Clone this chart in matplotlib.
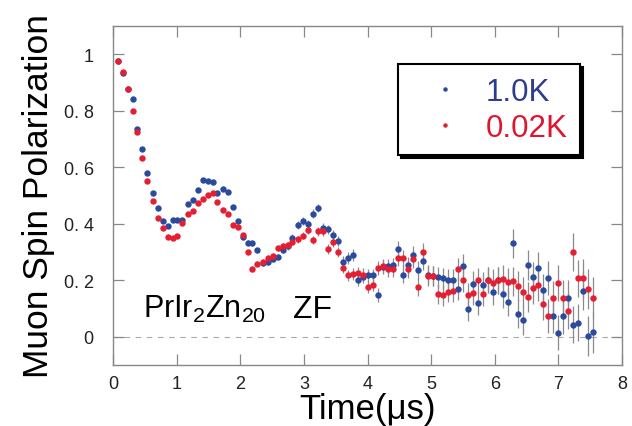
import matplotlib
matplotlib.use("Agg")
import matplotlib.pyplot as plt

plt.rcParams['font.family'] = ['Liberation Sans', 'DejaVu Sans']
plt.rcParams['mathtext.fontset'] = 'custom'
plt.rcParams['mathtext.rm'] = 'Liberation Sans'
plt.rcParams['mathtext.it'] = 'Liberation Sans'

time_us = [0.07, 0.15, 0.23, 0.31, 0.38, 0.46, 0.54, 0.62, 0.70, 0.78,
           0.86, 0.94, 1.01, 1.09, 1.17, 1.25, 1.33, 1.41, 1.49, 1.57,
           1.64, 1.72, 1.80, 1.88, 1.96, 2.04, 2.12, 2.19, 2.27, 2.35,
           2.43, 2.51, 2.59, 2.67, 2.75, 2.82, 2.90, 2.98, 3.06, 3.14,
           3.22, 3.30, 3.38, 3.45, 3.53, 3.61, 3.69, 3.77, 3.85, 3.93,
           4.01, 4.08, 4.16, 4.24, 4.32, 4.40, 4.48, 4.56, 4.63, 4.71,
           4.79, 4.87, 4.95, 5.03, 5.11, 5.19, 5.26, 5.34, 5.42, 5.50,
           5.58, 5.66, 5.74, 5.82, 5.89, 5.97, 6.05, 6.13, 6.21, 6.29,
           6.37, 6.45, 6.52, 6.60, 6.68, 6.76, 6.84, 6.92, 7.00, 7.08,
           7.15, 7.23, 7.31, 7.39, 7.47, 7.55]

pol_1K = [0.975, 0.935, 0.875, 0.840, 0.735, 0.664, 0.580, 0.507, 0.455, 0.410,
          0.390, 0.412, 0.412, 0.412, 0.468, 0.485, 0.520, 0.554, 0.551, 0.546,
          0.510, 0.522, 0.513, 0.460, 0.409, 0.353, 0.333, 0.330, 0.306, 0.260,
          0.265, 0.275, 0.283, 0.306, 0.320, 0.350, 0.395, 0.409, 0.400, 0.436,
          0.456, 0.385, 0.380, 0.360, 0.338, 0.265, 0.279, 0.290, 0.200, 0.212,
          0.217, 0.217, 0.147, 0.247, 0.250, 0.253, 0.312, 0.220, 0.253, 0.290,
          0.235, 0.268, 0.220, 0.215, 0.210, 0.206, 0.200, 0.200, 0.170, 0.250,
          0.097, 0.188, 0.119, 0.184, 0.200, 0.158, 0.200, 0.152, 0.123, 0.330,
          0.082, 0.060, 0.253, 0.210, 0.243, 0.164, 0.208, 0.073, 0.014, 0.073,
          0.137, 0.043, 0.050, 0.161, 0.002, 0.015]

pol_002K = [0.976, 0.936, 0.875, 0.800, 0.726, 0.634, 0.552, 0.481, 0.420, 0.383,
            0.353, 0.350, 0.357, 0.404, 0.436, 0.444, 0.472, 0.489, 0.500, 0.507,
            0.477, 0.450, 0.436, 0.395, 0.389, 0.360, 0.300, 0.239, 0.259, 0.265,
            0.277, 0.286, 0.315, 0.320, 0.324, 0.336, 0.345, 0.357, 0.377, 0.343,
            0.373, 0.373, 0.310, 0.336, 0.300, 0.243, 0.217, 0.223, 0.227, 0.220,
            0.176, 0.184, 0.243, 0.250, 0.239, 0.239, 0.279, 0.277, 0.239, 0.274,
            0.176, 0.298, 0.215, 0.215, 0.150, 0.147, 0.159, 0.161, 0.238, 0.200,
            0.149, 0.156, 0.200, 0.152, 0.200, 0.191, 0.200, 0.203, 0.194, 0.196,
            0.180, 0.158, 0.140, 0.172, 0.184, 0.116, 0.073, 0.137, 0.190, 0.137,
            0.091, 0.300, 0.206, 0.206, 0.168, 0.138]

pol_err = [0.003, 0.003, 0.003, 0.003, 0.003, 0.003, 0.004, 0.004, 0.004, 0.004,
           0.004, 0.004, 0.005, 0.005, 0.005, 0.005, 0.005, 0.006, 0.006, 0.006,
           0.006, 0.007, 0.007, 0.007, 0.008, 0.008, 0.008, 0.009, 0.009, 0.009,
           0.010, 0.010, 0.011, 0.011, 0.012, 0.012, 0.013, 0.013, 0.014, 0.015,
           0.015, 0.016, 0.017, 0.017, 0.018, 0.019, 0.020, 0.021, 0.021, 0.022,
           0.023, 0.024, 0.024, 0.025, 0.026, 0.027, 0.028, 0.029, 0.030, 0.031,
           0.032, 0.033, 0.034, 0.035, 0.036, 0.037, 0.038, 0.039, 0.040, 0.041,
           0.042, 0.043, 0.044, 0.045, 0.046, 0.047, 0.048, 0.049, 0.050, 0.051,
           0.052, 0.053, 0.054, 0.055, 0.057, 0.058, 0.059, 0.060, 0.062, 0.063,
           0.064, 0.066, 0.067, 0.068, 0.070, 0.072]

labels = ["1.0K", "0.02K"]
colors = ["#2a4a9e", "#e61e32"]
text_colors = ["#2e3c8c", "#e0142d"]

xticks = [0, 1, 2, 3, 4, 5, 6, 7, 8]
yticks = [0, 0.2, 0.4, 0.6, 0.8, 1.0]
ytick_labels = ["0", "0. 2", "0. 4", "0. 6", "0. 8", "1"]

fig = plt.figure(figsize=(6.32, 4.27), dpi=100)
ax = fig.add_axes([0.179, 0.143, 0.805, 0.794])

ax.axhline(0, color="#aaaaaa", lw=0.8, ls=(0, (5, 5)), zorder=1)

for pol, col in zip([pol_1K, pol_002K], colors):
    ax.errorbar(time_us, pol, yerr=pol_err, fmt="none", ecolor="#8a8a8a",
                elinewidth=0.9, capsize=0, zorder=2)
handles = []
for pol, col, lab in zip([pol_1K, pol_002K], colors, labels):
    h, = ax.plot(time_us, pol, "o", color=col, markersize=4.6, mec="none",
                 label=lab, zorder=3)
    handles.append(h)

ax.set_xlim(0, 8)
ax.set_ylim(-0.1, 1.1)
ax.set_xticks(xticks)
ax.set_xticklabels([str(v) for v in xticks])
ax.set_yticks(yticks)
ax.set_yticklabels(ytick_labels)

for s in ax.spines.values():
    s.set_color("#888888")
    s.set_linewidth(1.0)
ax.tick_params(direction="in", length=8, width=0.9, color="#888888",
               top=True, right=True, labelsize=13, labelcolor="#222222")
ax.tick_params(axis="y", pad=14)
ax.tick_params(axis="x", pad=7)

ax.set_xlabel("Time(\u03bcs)", fontsize=25, labelpad=0)
ax.set_ylabel("Muon Spin Polarization", fontsize=25.5, labelpad=6)

ax.text(0.47, 0.07, r"PrIr$_\mathregular{2}$Zn$_\mathregular{20}$", fontsize=22,
        ha="left", va="baseline", zorder=4)
ax.text(2.83, 0.07, "ZF", fontsize=23, ha="left", va="baseline", zorder=4)

leg = ax.legend(handles=handles, loc="upper left", bbox_to_anchor=(0.56, 0.887),
                fontsize=22.5, frameon=True, fancybox=False,
                shadow={"color": "black", "alpha": 1.0},
                markerscale=0.7, handlelength=2.2, handletextpad=0.2,
                borderpad=0.4, labelspacing=0.2, borderaxespad=0,
                labelcolor=text_colors)
leg.get_frame().set_edgecolor("black")
leg.get_frame().set_linewidth(1.5)

fig.savefig("out.png", dpi=100)
